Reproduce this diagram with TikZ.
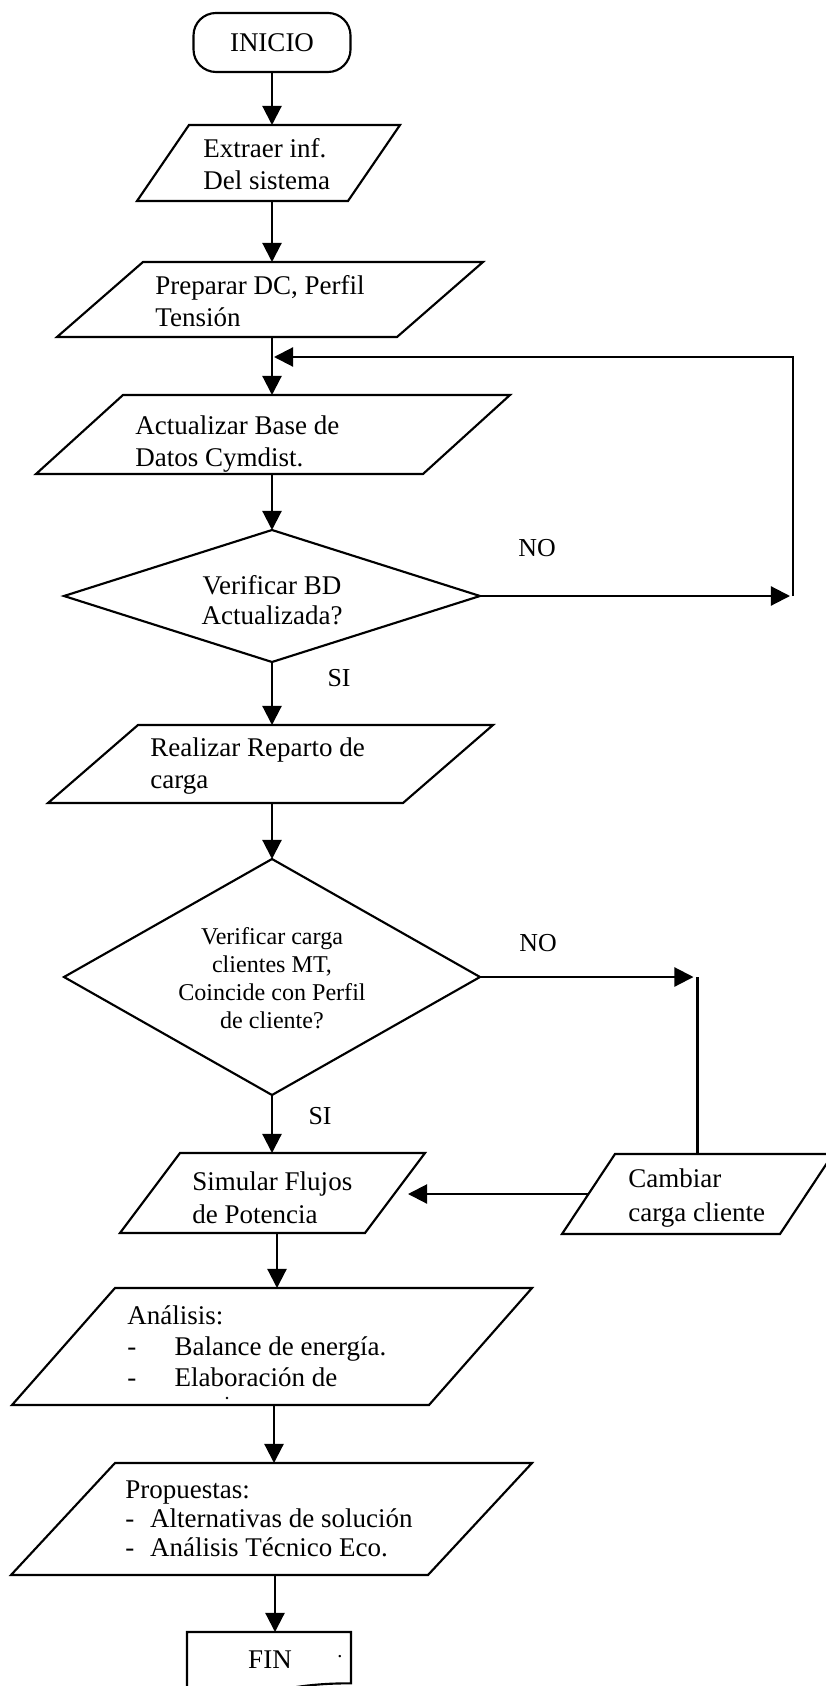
\documentclass[tikz,border=0pt]{standalone}
\usepackage{fontspec}
\setmainfont{Liberation Serif}
\usetikzlibrary{arrows.meta,shapes.geometric,calc}
% one drawing unit = 0.4444pt
\newcommand\pxu{0.4444pt}
% parallelogram drawn inside the bounding rectangle of a named node
\newcommand\slantbox[2]{%
  \draw[outline] (#1.south west) -- ([xshift=#2*\pxu]#1.north west)
    -- (#1.north east) -- ([xshift=-#2*\pxu]#1.south east) -- cycle;}
\tikzset{
  outline/.style={draw=black, line width=0.95pt, line join=miter},
  boxarea/.style={rectangle, draw=none, inner sep=0pt, outer sep=0pt},
  txt/.style={inner sep=0pt, align=left, font=\fontsize{12}{14.2}\selectfont},
  ctxt/.style={inner sep=0pt, align=center, font=\fontsize{12}{13.3}\selectfont},
  lbl/.style={inner sep=0pt, font=\fontsize{11.5}{13}\selectfont},
  arr/.style={draw=black, line width=0.95pt, -{Triangle[length=8.5pt,width=8.5pt]}},
  link/.style={draw=black, line width=0.95pt},
  decision/.style={diamond, draw=black, line width=0.95pt, inner sep=0pt, outer sep=0pt},
}
\begin{document}
\begin{tikzpicture}[x=0.4444pt,y=-0.4444pt]
\useasboundingbox (0,0) rectangle (825,1686);

% start terminal
\node[outline, rounded corners=10pt, minimum width=157*\pxu, minimum height=59*\pxu,
      inner sep=0pt, font=\fontsize{12}{14}\selectfont] (ini) at (272,42.5) {INICIO};

% data boxes (parallelograms)
\node[boxarea, minimum width=263*\pxu, minimum height=76*\pxu] (ext) at (268.5,163) {};
\slantbox{ext}{52}
\node[txt, anchor=west] (ext-t) at (203,164) {Extraer inf.\\Del sistema};

\node[boxarea, minimum width=426*\pxu, minimum height=75*\pxu] (prep) at (270,299.5) {};
\slantbox{prep}{86}
\node[txt, anchor=west] (prep-t) at (155,301.5) {Preparar DC, Perfil\\Tensión};

\node[boxarea, minimum width=474*\pxu, minimum height=79*\pxu] (act) at (273,434.5) {};
\slantbox{act}{87}
\node[txt, anchor=west] (act-t) at (135,444) {Actualizar Base de\\Datos Cymdist.};

\node[decision, minimum width=416*\pxu, minimum height=132*\pxu] (d1) at (272,596) {};
\node[ctxt] (d1-t) at (272,600) {Verificar BD\\Actualizada?};

\node[boxarea, minimum width=445*\pxu, minimum height=78*\pxu] (real) at (270.5,764) {};
\slantbox{real}{90}
\node[txt, anchor=west] (real-t) at (150,766) {Realizar Reparto de\\carga};

\node[decision, minimum width=416*\pxu, minimum height=236*\pxu] (d2) at (272,977) {};
\node[ctxt, font=\fontsize{10.7}{12.4}\selectfont] (d2-t) at (272,978.5)
  {Verificar carga\\clientes MT,\\Coincide con Perfil\\de cliente?};

\node[boxarea, minimum width=305*\pxu, minimum height=80*\pxu] (sim) at (272.5,1193) {};
\slantbox{sim}{60}
\node[txt, anchor=west, font=\fontsize{12}{14.7}\selectfont] (sim-t) at (192,1198) {Simular Flujos\\de Potencia};

\node[boxarea, minimum width=271*\pxu, minimum height=80*\pxu] (cam) at (697.5,1194) {};
\slantbox{cam}{53}
\node[txt, anchor=west, font=\fontsize{12}{14.7}\selectfont] (cam-t) at (628,1198) {Cambiar\\carga cliente};

\node[boxarea, minimum width=520*\pxu, minimum height=117*\pxu] (ana) at (272,1346.5) {};
\slantbox{ana}{103}
\node[txt, anchor=west, font=\fontsize{12}{13.8}\selectfont] (ana-t) at (127,1346)
  {Análisis:\\\makebox[21pt][l]{-}Balance de energía.\\\makebox[21pt][l]{-}Elaboración de};
\fill (227,1398) circle[radius=0.6pt];

\node[boxarea, minimum width=521*\pxu, minimum height=112*\pxu] (prop) at (271.5,1519) {};
\slantbox{prop}{104}
\node[txt, anchor=west, font=\fontsize{12}{13}\selectfont] (prop-t) at (125,1519)
  {Propuestas:\\\makebox[11pt][l]{-}Alternativas de solución\\\makebox[11pt][l]{-}Análisis Técnico Eco.};

% end terminal (document shape)
\node[boxarea, minimum width=164*\pxu, minimum height=64*\pxu] (fin) at (269,1664) {};
\draw[outline] (fin.north west) -- (fin.north east) -- ($(fin.north east)+(0,51.3)$)
  .. controls ($(fin.north)+(0,51.3)$) and ($(fin.north)+(0,70.8)$) .. ($(fin.north west)+(0,59.8)$)
  -- cycle;
\node[txt] (fin-t) at (270,1660) {FIN};
\node[inner sep=0pt, font=\fontsize{9}{10}\selectfont] (fin-dot) at (340,1657) {.};

% branch labels
\node[lbl] (no1) at (537,548) {NO};
\node[lbl] (si1) at (339,678) {SI};
\node[lbl] (no2) at (538,943) {NO};
\node[lbl] (si2) at (320,1116) {SI};

% main flow
\draw[arr] (ini.south) -- (ini.south |- ext.north);
\draw[arr] (ext.south -| ini) -- (prep.north -| ini);
\draw[arr] (prep.south -| ini) -- (act.north -| ini);
\draw[arr] (act.south -| ini) -- (d1.north);
\draw[arr] (d1.south) -- (real.north -| d1);
\draw[arr] (real.south -| d1) -- (d2.north);
\draw[arr] (d2.south) -- (sim.north -| d2);
\draw[arr] ([xshift=4.5*\pxu]sim.south) -- ([xshift=4.5*\pxu]sim.south |- ana.north);
\draw[arr] ([xshift=2*\pxu]ana.south) -- ([xshift=2*\pxu]ana.south |- prop.north);
\draw[arr] ([xshift=3.5*\pxu]prop.south) -- ([xshift=3.5*\pxu]prop.south |- fin.north);

% NO loop back to the database update
\coordinate (loopTop) at (793,357);
\draw[arr] (d1.east) -- ([xshift=-3*\pxu]d1.east -| loopTop);
\draw[arr] (d1.east -| loopTop) -- (loopTop) -- ([xshift=2*\pxu]loopTop -| ini);

% NO branch to load change and back to simulation
\draw[arr] (d2.east) -- ([xshift=-4*\pxu]d2.east -| cam.north);
\draw[link] (d2.east -| cam.north) -- (cam.north);
\coordinate (camL) at ($(cam.south west)!0.5!([xshift=53*\pxu]cam.north west)$);
\coordinate (simR) at ($(sim.north east)!0.5!([xshift=-60*\pxu]sim.south east)$);
\draw[arr] (camL) -- ([xshift=13*\pxu]camL -| simR);
\end{tikzpicture}
\end{document}
